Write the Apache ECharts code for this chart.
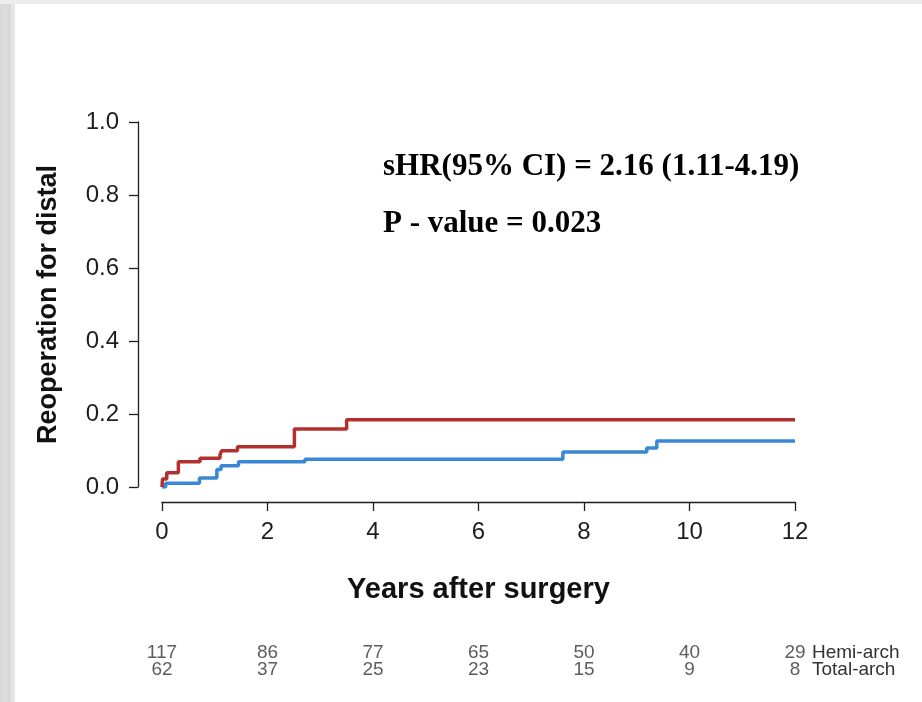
<!DOCTYPE html>
<html>
<head>
<meta charset="utf-8">
<script src="https://cdn.jsdelivr.net/npm/echarts@6/dist/echarts.min.js"></script>
<style>
  html, body { margin: 0; padding: 0; background: #fff; }
  #frame { position: relative; width: 922px; height: 702px; overflow: hidden; }
  /* светло-серая рамка слева и сверху, как у скриншота */
  #frame::before { content: ''; position: absolute; left: 0; top: 0; width: 15px; height: 702px;
    background: linear-gradient(90deg, #d6d6d6 0, #dcdcdc 4px, #d8d8d8 10px, #e6e6e6 12px, #e4e4e4 15px); z-index: 2; }
  #frame::after { content: ''; position: absolute; left: 0; top: 0; width: 922px; height: 4px;
    background: #ececec; z-index: 2; }
  #chart { width: 922px; height: 702px; }
</style>
</head>
<body>
<div id="frame"><div id="chart"></div></div>
<script>
// Кумулятивная частота реоперации, ступенчатые кривые (годы, доля)
const hemiTimes  = [0, 0.01, 0.09, 0.31, 0.72, 1.10, 1.13, 1.43, 2.51, 3.50, 12];
const hemiValues = [0, 0.022, 0.039, 0.069, 0.079, 0.088, 0.099, 0.110, 0.159, 0.184, 0.184];
const totalTimes  = [0, 0.07, 0.71, 1.04, 1.12, 1.45, 2.71, 7.60, 9.19, 9.38, 12];
const totalValues = [0, 0.010, 0.025, 0.048, 0.058, 0.069, 0.076, 0.096, 0.107, 0.126, 0.126];

// Число под риском
const riskTimes = [0, 2, 4, 6, 8, 10, 12];
const hemiAtRisk = [117, 86, 77, 65, 50, 40, 29];
const totalAtRisk = [62, 37, 25, 23, 15, 9, 8];
const groupNames = ['Total-arch', 'Hemi-arch']; // снизу вверх

const statLines = ['sHR(95% CI) = 2.16 (1.11-4.19)', 'P - value = 0.023'];

const RED = '#b3302f', BLUE = '#3a88d4', INK = '#1e1e1e';
const SANS = '"Liberation Sans", Arial, sans-serif';
const RISK_FONT = '"Liberation Sans", Arial, sans-serif';

const zip = (a, b) => a.map((v, i) => [v, b[i]]);

const chart = echarts.init(document.getElementById('chart'), null, { renderer: 'canvas' });
chart.setOption({
  animation: false,
  backgroundColor: '#fff',
  grid: [
    { left: 162, right: 127, top: 122, bottom: 215 },
    { left: 162, right: 127, top: 644, height: 34 },
  ],
  xAxis: [{
    gridIndex: 0, type: 'value', min: 0, max: 12, interval: 2,
    offset: 15,
    name: 'Years after surgery', nameLocation: 'middle', nameGap: 73,
    nameTextStyle: { fontFamily: SANS, fontSize: 29, fontWeight: 'bold', color: '#111' },
    axisLine: { onZero: false, lineStyle: { color: INK, width: 1.3 } },
    axisTick: { length: 9, lineStyle: { color: INK, width: 1.3 } },
    axisLabel: { margin: 18, fontFamily: SANS, fontSize: 24, color: INK },
    splitLine: { show: false },
  }, {
    gridIndex: 1, type: 'value', min: 0, max: 12,
    show: false,
  }],
  yAxis: [{
    gridIndex: 0, type: 'value', min: 0, max: 1, interval: 0.2,
    offset: 24,
    name: 'Reoperation for distal', nameLocation: 'middle', nameGap: 76,
    nameTextStyle: { fontFamily: SANS, fontSize: 27, fontWeight: 'bold', color: '#111' },
    axisLine: { show: true, onZero: false, lineStyle: { color: INK, width: 1.3 } },
    axisTick: { show: true, length: 9, lineStyle: { color: INK, width: 1.3 } },
    axisLabel: { margin: 19, fontFamily: SANS, fontSize: 24, color: INK,
      formatter: v => v.toFixed(1) },
    splitLine: { show: false },
  }, {
    gridIndex: 1, type: 'category', data: groupNames, position: 'right',
    axisLine: { show: false }, axisTick: { show: false },
    axisLabel: { interval: 0, margin: 17, align: 'left', fontFamily: RISK_FONT, fontSize: 19, color: '#333' },
    splitLine: { show: false },
  }],
  series: [
    {
      name: 'Hemi-arch', type: 'line', step: 'end',
      data: zip(hemiTimes, hemiValues),
      showSymbol: false, lineStyle: { color: RED, width: 3.5 }, z: 4,
    },
    {
      name: 'Total-arch', type: 'line', step: 'end',
      data: zip(totalTimes, totalValues),
      showSymbol: false, lineStyle: { color: BLUE, width: 3.5 }, z: 3,
    },
    {
      type: 'scatter', xAxisIndex: 1, yAxisIndex: 1, symbolSize: 0, silent: true,
      data: riskTimes.map((t, i) => [t, 'Hemi-arch', hemiAtRisk[i]]),
      label: { show: true, position: 'inside', formatter: p => p.value[2],
        fontFamily: RISK_FONT, fontSize: 19, color: '#333' },
    },
    {
      type: 'scatter', xAxisIndex: 1, yAxisIndex: 1, symbolSize: 0, silent: true,
      data: riskTimes.map((t, i) => [t, 'Total-arch', totalAtRisk[i]]),
      label: { show: true, position: 'inside', formatter: p => p.value[2],
        fontFamily: RISK_FONT, fontSize: 19, color: '#333' },
    },
  ],
  graphic: statLines.map((txt, i) => ({
    type: 'text', left: 383, top: 151 + i * 57,
    style: { text: txt, font: 'bold 31px "Liberation Serif", "Times New Roman", serif', fill: '#000' },
  })),
});
</script>
</body>
</html>
